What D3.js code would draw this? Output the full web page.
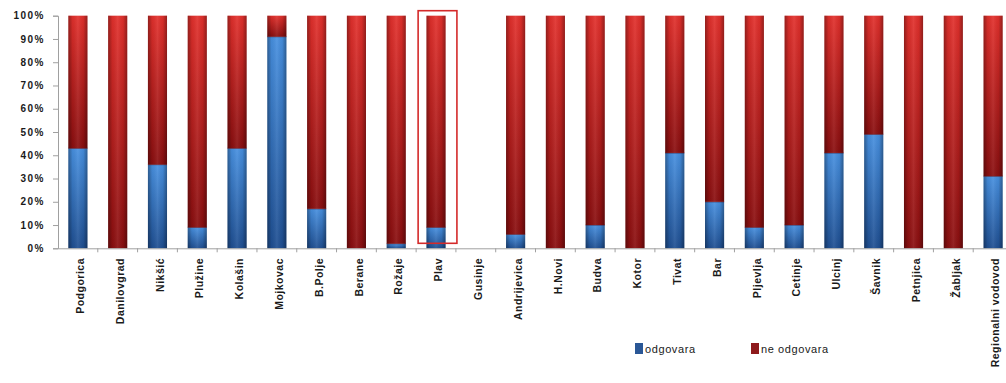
<!DOCTYPE html>
<html>
<head>
<meta charset="utf-8">
<script src="https://cdn.jsdelivr.net/npm/d3@7"></script>
<style>
  html, body { margin: 0; padding: 0; background: #ffffff; }
  svg { display: block; }
  text { font-family: "Liberation Sans", Arial, sans-serif; font-weight: bold; fill: #1a1a1a; }
</style>
</head>
<body>
<svg id="chart" width="1006" height="383"></svg>
<script>
const categories = ["Podgorica","Danilovgrad","Nikšić","Plužine","Kolašin","Mojkovac","B.Polje","Berane","Rožaje","Plav","Gusinje","Andrijevica","H.Novi","Budva","Kotor","Tivat","Bar","Pljevlja","Cetinje","Ulcinj","Šavnik","Petnjica","Žabljak","Regionalni vodovod"];
const odgovara   = [43, 0, 36,  9, 43, 91, 17,   0,  2,  9, null,  6,   0, 10,   0, 41, 20,  9, 10, 41, 49,   0,   0, 31];
const neOdgovara = [57,100, 64, 91, 57,  9, 83, 100, 98, 91, null, 94, 100, 90, 100, 59, 80, 91, 90, 59, 51, 100, 100, 69];
const seriesNames = ["odgovara", "ne odgovara"];
const yTicks = [0,10,20,30,40,50,60,70,80,90,100];
const highlighted = "Plav";

const svg = d3.select("#chart");

const x = d3.scaleBand().domain(categories).range([58, 1013]).paddingInner(0.52).paddingOuter(0.26);
const y = d3.scaleLinear().domain([0, 100]).range([248.3, 15.7]);

const defs = svg.append("defs");
function vgrad(id, top, bottom) {
  const g = defs.append("linearGradient").attr("id", id).attr("x1", 0).attr("y1", 0).attr("x2", 0).attr("y2", 1);
  g.append("stop").attr("offset", "0%").attr("stop-color", top);
  g.append("stop").attr("offset", "100%").attr("stop-color", bottom);
}
vgrad("gBlue", "#4790e0", "#1f4f92");
vgrad("gRed", "#e2302c", "#8a0f10");
const sh = defs.append("linearGradient").attr("id", "gShade").attr("x1", 0).attr("y1", 0).attr("x2", 1).attr("y2", 0);
sh.append("stop").attr("offset", "0%").attr("stop-color", "#000").attr("stop-opacity", 0.35);
sh.append("stop").attr("offset", "22%").attr("stop-color", "#000").attr("stop-opacity", 0.05);
sh.append("stop").attr("offset", "50%").attr("stop-color", "#fff").attr("stop-opacity", 0.08);
sh.append("stop").attr("offset", "78%").attr("stop-color", "#000").attr("stop-opacity", 0.05);
sh.append("stop").attr("offset", "100%").attr("stop-color", "#000").attr("stop-opacity", 0.35);

const rows = categories.map((c, i) => ({cat: c, odgovara: odgovara[i] ?? 0, "ne odgovara": neOdgovara[i] ?? 0}));
const stacked = d3.stack().keys(seriesNames)(rows);
const fills = {"odgovara": "url(#gBlue)", "ne odgovara": "url(#gRed)"};

// y axis
const yAxis = d3.axisLeft(y).tickValues(yTicks).tickFormat(d => d + "%").tickSize(5).tickPadding(8);
const gy = svg.append("g").attr("transform", `translate(58,0)`).call(yAxis);
gy.select(".domain").attr("stroke", "#a0a0a0");
gy.selectAll(".tick line").attr("stroke", "#a0a0a0");
gy.selectAll(".tick text").style("font-size", "10px").style("letter-spacing", "1.5px").attr("fill", "#1a1a1a");

// bars
stacked.forEach(layer => {
  const g = svg.append("g");
  const segs = layer.filter(d => d[1] - d[0] > 0);
  g.selectAll("rect.bar").data(segs).join("rect")
    .attr("class", "bar")
    .attr("x", d => x(d.data.cat))
    .attr("width", x.bandwidth())
    .attr("y", d => y(d[1]))
    .attr("height", d => y(d[0]) - y(d[1]))
    .attr("fill", fills[layer.key]);
  g.selectAll("rect.shade").data(segs).join("rect")
    .attr("class", "shade")
    .attr("x", d => x(d.data.cat))
    .attr("width", x.bandwidth())
    .attr("y", d => y(d[1]))
    .attr("height", d => y(d[0]) - y(d[1]))
    .attr("fill", "url(#gShade)");
  if (layer.key === "odgovara") {
    g.selectAll("line.top").data(segs.filter(d => d[1] < 100)).join("line")
      .attr("class", "top")
      .attr("x1", d => x(d.data.cat)).attr("x2", d => x(d.data.cat) + x.bandwidth())
      .attr("y1", d => y(d[1])).attr("y2", d => y(d[1]))
      .attr("stroke", "#3a0f2a").attr("stroke-opacity", 0.6).attr("stroke-width", 1.2);
  }
});

// x axis
const xAxis = d3.axisBottom(x).tickSize(0).tickFormat("");
const gx = svg.append("g").attr("transform", `translate(0,${y(0)})`).call(xAxis);
gx.select(".domain").attr("stroke", "#a0a0a0");
const step = x.step();
const gap = (step - x.bandwidth()) / 2;
svg.append("g").selectAll("line").data(categories.slice(1)).join("line")
  .attr("x1", c => x(c) - gap)
  .attr("x2", c => x(c) - gap)
  .attr("y1", y(0)).attr("y2", y(0) + 4)
  .attr("stroke", "#a0a0a0");

// x labels
svg.append("g").selectAll("text").data(categories).join("text")
  .attr("transform", c => `translate(${x(c) + x.bandwidth() / 2 + 2.5},258) rotate(-90)`)
  .attr("text-anchor", "end")
  .attr("dy", "0.35em")
  .style("font-size", "10.5px")
  .style("letter-spacing", "0.5px")
  .text(c => c);

// highlight box
svg.append("rect")
  .attr("x", x(highlighted) - gap + 2)
  .attr("width", step - 1)
  .attr("y", y(100) - 5)
  .attr("height", (y(0) - 5) - (y(100) - 5))
  .attr("fill", "none")
  .attr("stroke", "#d42a2a")
  .attr("stroke-width", 1.6);

// legend
const legendX = [635, 751];
const lg = svg.append("g");
seriesNames.forEach((s, i) => {
  lg.append("rect").attr("x", legendX[i]).attr("y", 343).attr("width", 8).attr("height", 11)
    .attr("fill", i === 0 ? "#2a5796" : "#8e1a1c");
  lg.append("text").attr("x", legendX[i] + 10).attr("y", 349).attr("dy", "0.35em")
    .style("font-size", "11px").style("letter-spacing", "0.6px").style("font-weight", "normal").text(s);
});
</script>
</body>
</html>
